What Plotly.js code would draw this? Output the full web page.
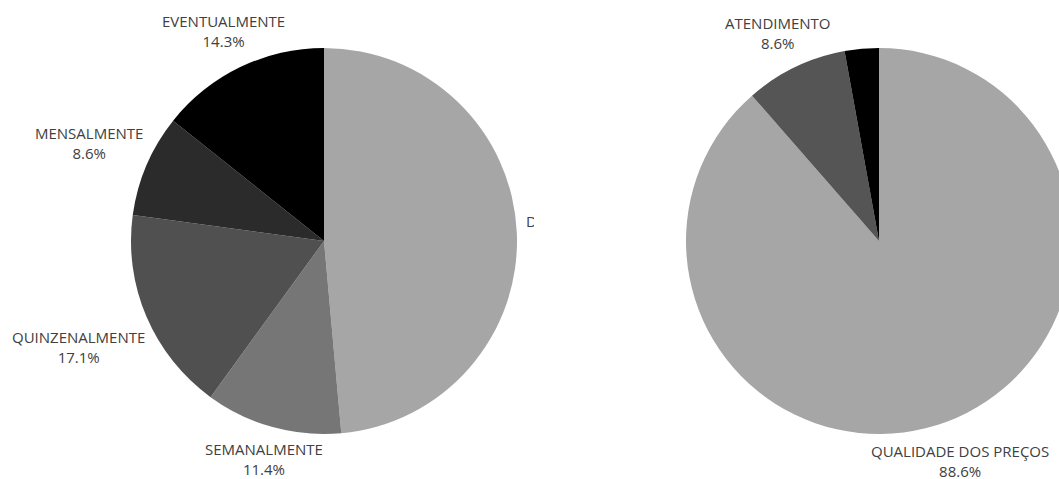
<!DOCTYPE html>
<html>
<head>
<meta charset="utf-8">
<script src="https://cdn.plot.ly/plotly-3.0.1.min.js"></script>
<style>
  html, body { margin: 0; padding: 0; background: #fff; overflow: hidden; width: 1059px; height: 479px; }
  #leftWrap { position: absolute; left: 0; top: 0; width: 534px; height: 479px; overflow: hidden; }
  #rightWrap { position: absolute; left: 534px; top: 0; width: 525px; height: 479px; overflow: hidden; }
  #left, #right { width: 800px; height: 479px; }
</style>
</head>
<body>
<div id="leftWrap"><div id="left"></div></div>
<div id="rightWrap"><div id="right"></div></div>
<script>
// Left chart: frequency
const freqLabels = ["DIARIAMENTE", "SEMANALMENTE", "QUINZENALMENTE", "MENSALMENTE", "EVENTUALMENTE"];
const freqValues = [17, 4, 6, 3, 5];
const freqColors = ["#a6a6a6", "#767676", "#505050", "#2b2b2b", "#000000"];

// Right chart: reason
const motivoLabels = ["QUALIDADE DOS PREÇOS", "ATENDIMENTO", "OUTROS"];
const motivoValues = [31, 3, 1];
const motivoColors = ["#a6a6a6", "#555555", "#000000"];
const motivoShowLabel = [true, true, false];

// Label placement (pixel positions inside each 800x479 plot) — layout only
const freqLabelPos = [
  { x: 524, y: 231, xanchor: "left" },
  { x: 264, y: 459, xanchor: "center" },
  { x: 78, y: 347, xanchor: "center" },
  { x: 89, y: 143, xanchor: "center" },
  { x: 223, y: 31, xanchor: "center" }
];
const motivoLabelPos = [
  { x: 426, y: 461, xanchor: "center" },
  { x: 244, y: 33, xanchor: "center" },
  null
];

const font = { family: "Open Sans, Noto Sans, sans-serif", size: 15, color: "#404040" };
const W = 800, H = 479;

function domainFor(cx, cy, r) {
  return {
    x: [(cx - r) / W, (cx + r) / W],
    y: [(H - cy - r) / H, (H - cy + r) / H]
  };
}

function buildAnnotations(labels, values, pos, show) {
  const total = values.reduce((a, b) => a + b, 0);
  const anns = [];
  labels.forEach((lab, i) => {
    if (show && !show[i]) return;
    const p = pos[i];
    if (!p) return;
    anns.push({
      xref: "paper", yref: "paper",
      x: p.x / W, y: 1 - p.y / H,
      xanchor: p.xanchor, yanchor: "middle",
      align: "center",
      showarrow: false,
      text: lab + "<br>" + (values[i] / total * 100).toFixed(1) + "%",
      font: font
    });
  });
  return anns;
}

function pieLayout(anns) {
  return {
    width: W, height: H,
    margin: { l: 0, r: 0, t: 0, b: 0 },
    paper_bgcolor: "#fff",
    showlegend: false,
    font: font,
    annotations: anns
  };
}

Plotly.newPlot("left", [{
  type: "pie",
  labels: freqLabels,
  values: freqValues,
  sort: false,
  direction: "clockwise",
  rotation: 0,
  marker: { colors: freqColors, line: { color: "#ffffff", width: 0 } },
  textinfo: "none",
  hoverinfo: "label+percent",
  domain: domainFor(324, 241, 193)
}], pieLayout(buildAnnotations(freqLabels, freqValues, freqLabelPos)), { staticPlot: true, displayModeBar: false });

Plotly.newPlot("right", [{
  type: "pie",
  labels: motivoLabels,
  values: motivoValues,
  sort: false,
  direction: "clockwise",
  rotation: 0,
  marker: { colors: motivoColors, line: { color: "#ffffff", width: 0 } },
  textinfo: "none",
  hoverinfo: "label+percent",
  domain: domainFor(345, 241, 193)
}], pieLayout(buildAnnotations(motivoLabels, motivoValues, motivoLabelPos, motivoShowLabel)), { staticPlot: true, displayModeBar: false });
</script>
</body>
</html>
